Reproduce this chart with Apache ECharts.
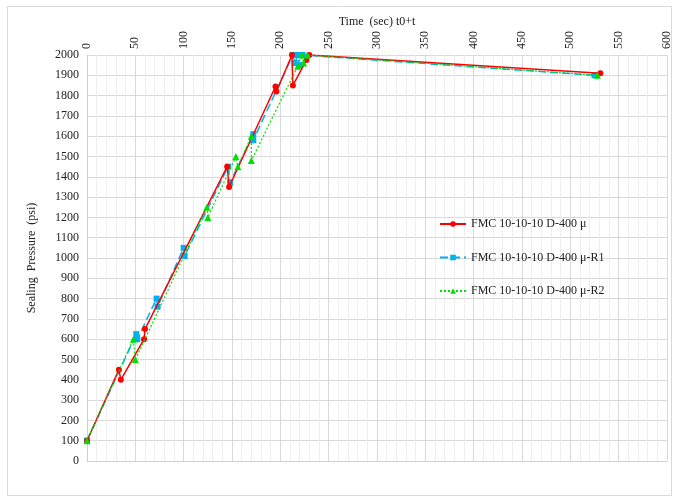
<!DOCTYPE html>
<html>
<head>
<meta charset="utf-8">
<script src="https://cdn.jsdelivr.net/npm/echarts@6/dist/echarts.min.js"></script>
<style>html,body{margin:0;padding:0;background:#fff;}#c{width:674px;height:498px;}</style>
</head>
<body>
<div id="c"></div>
<script>
const seriesNames = ['FMC 10-10-10 D-400 μ', 'FMC 10-10-10 D-400 μ-R1', 'FMC 10-10-10 D-400 μ-R2'];
const redT = [0, 33, 35, 59, 60, 145, 147, 195, 196, 212, 213, 227, 230, 531];
const redP = [100, 450, 400, 600, 650, 1450, 1350, 1845, 1820, 2000, 1850, 1975, 2000, 1910];
const blueT = [0, 51, 52, 72, 73, 100, 101, 146, 148, 172, 172, 213, 215, 218, 220, 223, 525];
const blueP = [100, 625, 600, 800, 760, 1050, 1010, 1450, 1370, 1610, 1580, 2000, 1960, 2000, 1950, 2000, 1900];
const greenT = [0, 48, 50, 124, 125, 154, 156, 170, 170, 218, 222, 224, 228, 528];
const greenP = [100, 600, 500, 1250, 1200, 1500, 1450, 1600, 1480, 1945, 2000, 1960, 2000, 1900];
const xTicks = {min: 0, max: 600, interval: 50};
const yTicks = {min: 0, max: 2000, interval: 100};

const pair = (t, p) => t.map((v, i) => [v, p[i]]);
const font = "'Liberation Serif', 'Times New Roman', serif";
const chart = echarts.init(document.getElementById('c'));
chart.setOption({
  animation: false,
  backgroundColor: '#fff',
  textStyle: {fontFamily: font},
  graphic: [{type: 'rect', shape: {x: 7.5, y: 6.5, width: 664, height: 489}, style: {fill: 'none', stroke: '#d9d9d9', lineWidth: 1}, z: -1}],
  grid: {left: 87, right: 7, top: 55, bottom: 37},
  legend: {
    orient: 'vertical', left: 439, top: 218, padding: 0, itemGap: 21.5, itemWidth: 26, itemHeight: 7,
    textStyle: {fontFamily: font, fontSize: 12, color: '#222'},
    data: seriesNames
  },
  xAxis: {
    type: 'value', position: 'top', min: xTicks.min, max: xTicks.max, interval: xTicks.interval,
    name: 'Time  (sec) t0+t', nameLocation: 'middle', nameGap: 27, nameMoveOverlap: false,
    nameTextStyle: {fontFamily: font, fontSize: 12, color: '#222'},
    axisLine: {show: true, lineStyle: {color: '#d0d0d0'}},
    axisTick: {show: false},
    axisLabel: {rotate: 90, fontFamily: font, fontSize: 12, color: '#222', margin: 6},
    splitLine: {show: true, lineStyle: {color: '#d9d9d9'}},
    minorTick: {show: false, splitNumber: 5},
    minorSplitLine: {show: true, lineStyle: {color: '#eeeeee'}}
  },
  yAxis: {
    type: 'value', min: yTicks.min, max: yTicks.max, interval: yTicks.interval,
    name: 'Sealing  Pressure  (psi)', nameLocation: 'middle', nameGap: 49,
    nameTextStyle: {fontFamily: font, fontSize: 12, color: '#222'},
    axisLine: {show: true, lineStyle: {color: '#d0d0d0'}},
    axisTick: {show: false},
    axisLabel: {fontFamily: font, fontSize: 12, color: '#222', margin: 8, formatter: v => String(v)},
    splitLine: {show: true, lineStyle: {color: '#d9d9d9'}}
  },
  series: [
    {name: seriesNames[0], type: 'line', data: pair(redT, redP), symbol: 'circle', symbolSize: 6,
     itemStyle: {color: '#ff0000'}, lineStyle: {color: '#ff0000', width: 1.5}, z: 3},
    {name: seriesNames[1], type: 'line', data: pair(blueT, blueP), symbol: 'rect', symbolSize: 6,
     itemStyle: {color: '#00b0f0'}, lineStyle: {color: '#00b0f0', width: 1.5, type: [8, 4]}, z: 2},
    {name: seriesNames[2], type: 'line', data: pair(greenT, greenP), symbol: 'triangle', symbolSize: 7,
     itemStyle: {color: '#00e000'}, lineStyle: {color: '#00e000', width: 1.2, type: [2, 2]}, z: 4}
  ]
});
</script>
</body>
</html>
